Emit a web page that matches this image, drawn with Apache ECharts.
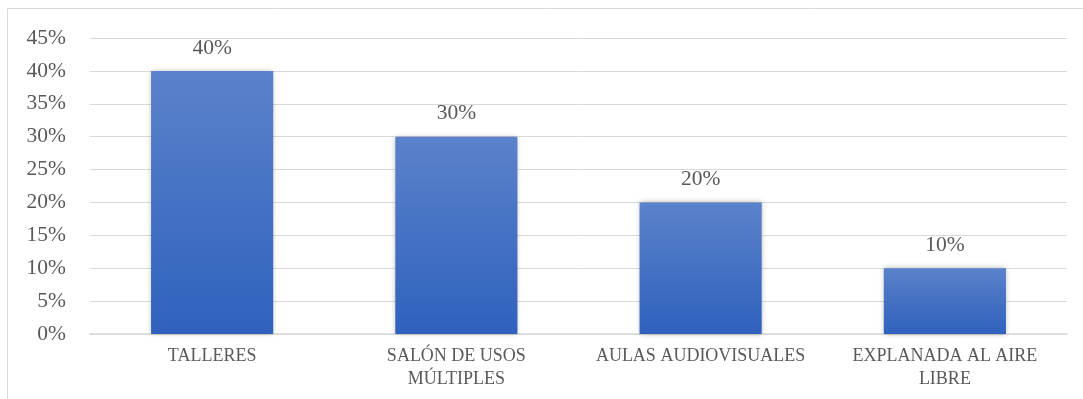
<!DOCTYPE html>
<html>
<head>
<meta charset="utf-8">
<script src="https://cdn.jsdelivr.net/npm/echarts@6/dist/echarts.min.js"></script>
<style>
  html, body { margin: 0; padding: 0; background: #fff; }
  #chart { width: 1083px; height: 399px; }
</style>
</head>
<body>
<div id="chart"></div>
<script>
// Espacios preferidos (porcentaje de respuestas)
const categories = ['TALLERES', 'SALÓN DE USOS\nMÚLTIPLES', 'AULAS AUDIOVISUALES', 'EXPLANADA AL AIRE\nLIBRE'];
const values = [40, 30, 20, 10];
const yTicks = [0, 5, 10, 15, 20, 25, 30, 35, 40, 45];

const textColor = '#595959';
const fontFamily = '"Liberation Serif", "Times New Roman", serif';

const chart = echarts.init(document.getElementById('chart'));
chart.setOption({
  animation: false,
  backgroundColor: '#fff',
  graphic: [{
    type: 'rect',
    shape: { x: 7.5, y: 8.5, width: 1200, height: 500 },
    style: { fill: 'none', stroke: '#d9d9d9', lineWidth: 1 },
    silent: true
  }],
  grid: { left: 90, right: 16, top: 38, bottom: 65 },
  xAxis: {
    type: 'category',
    data: categories,
    axisTick: { show: false },
    axisLine: { lineStyle: { color: '#d9d9d9', width: 1.5 } },
    axisLabel: {
      color: textColor, fontFamily, fontSize: 18, lineHeight: 23, margin: 11, interval: 0
    }
  },
  yAxis: {
    type: 'value',
    min: yTicks[0],
    max: yTicks[yTicks.length - 1],
    interval: 5,
    axisLine: { show: false },
    axisTick: { show: false },
    splitLine: { lineStyle: { color: '#d9d9d9', width: 1 } },
    axisLabel: {
      color: textColor, fontFamily, fontSize: 21.5, margin: 24,
      formatter: v => v + '%'
    }
  },
  series: [{
    type: 'bar',
    data: values,
    barWidth: '50%',
    itemStyle: {
      color: new echarts.graphic.LinearGradient(0, 0, 0, 1, [
        { offset: 0, color: '#5b82cb' },
        { offset: 1, color: '#2f61bd' }
      ]),
      shadowColor: 'rgba(0,0,0,0.3)',
      shadowBlur: 5
    },
    label: {
      show: true,
      position: 'top',
      distance: 12,
      color: textColor, fontFamily, fontSize: 21.5,
      formatter: p => p.value + '%'
    }
  }]
});
</script>
</body>
</html>
